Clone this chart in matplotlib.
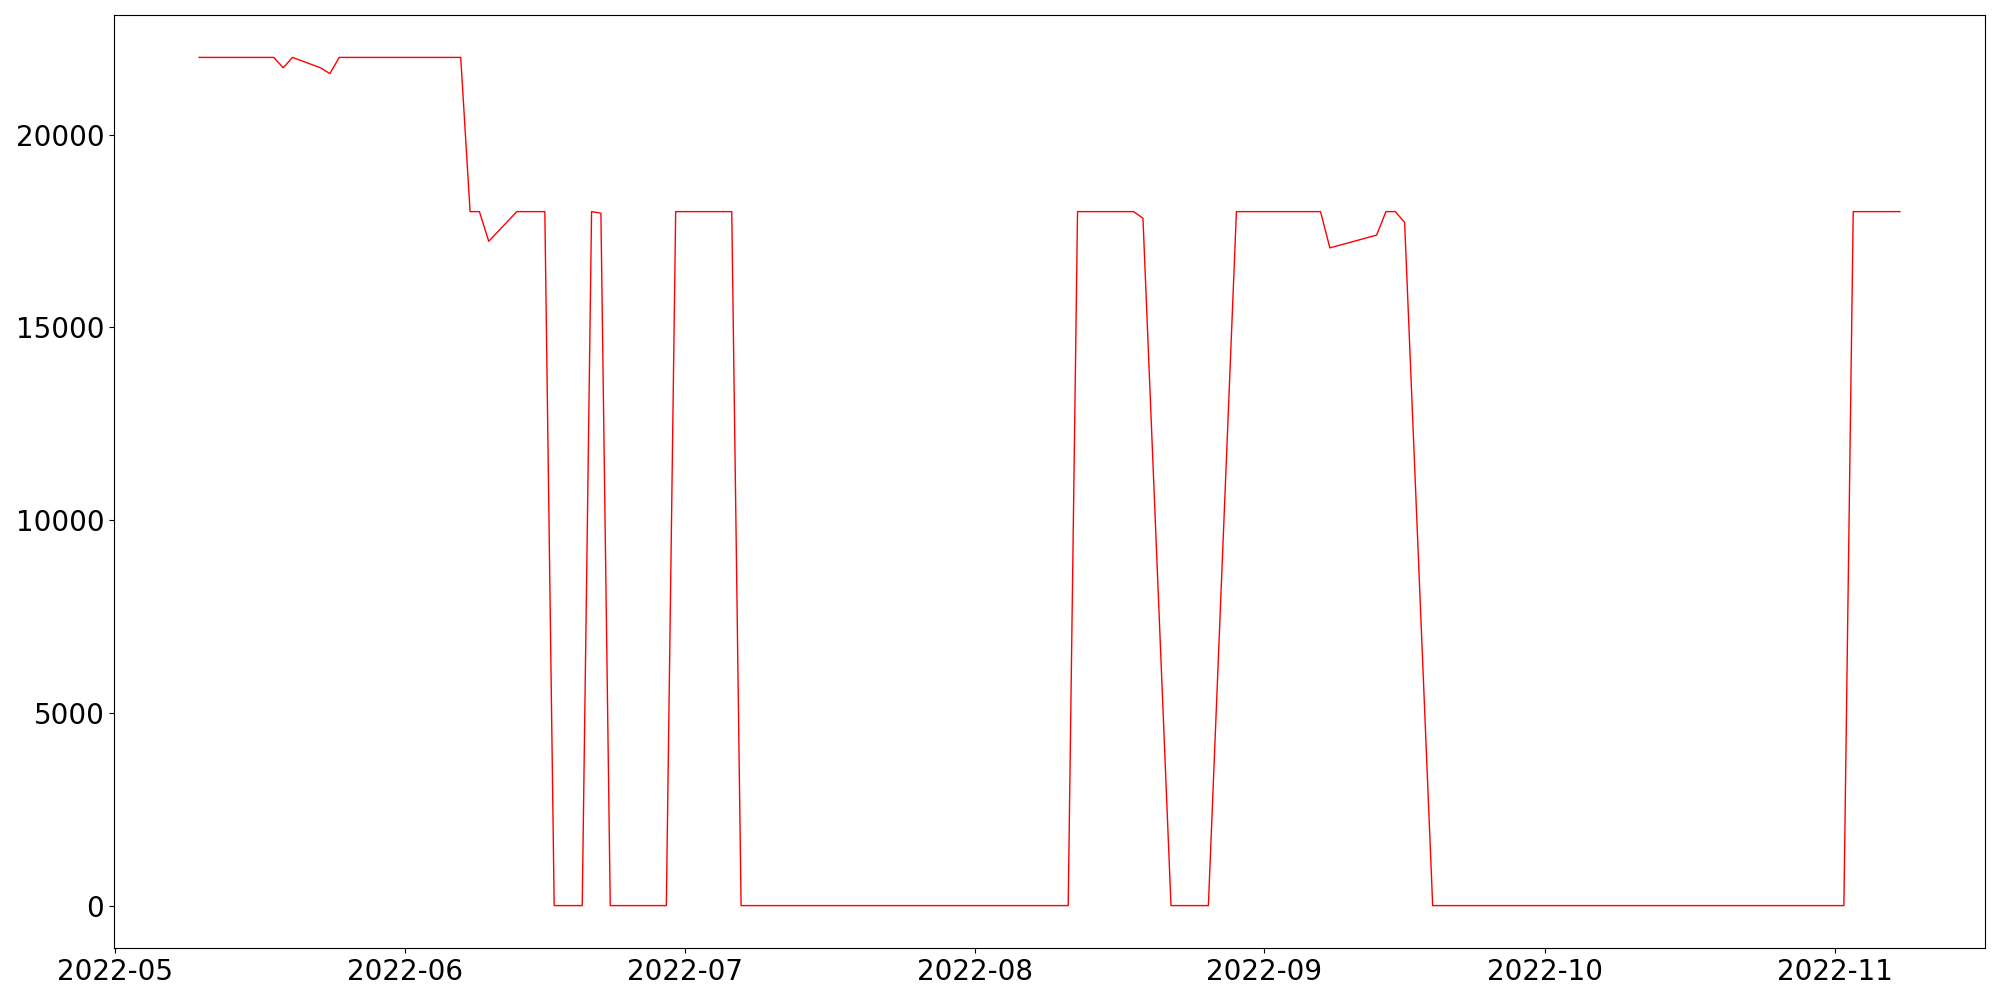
import numpy as np
import pandas as pd
import matplotlib
matplotlib.use("Agg")
import matplotlib.pyplot as plt

# 各拐点的日期和数值
dates = [
    "2022-05-10", "2022-05-18", "2022-05-19", "2022-05-20", "2022-05-23",
    "2022-05-24", "2022-05-25", "2022-06-07", "2022-06-08", "2022-06-09",
    "2022-06-10", "2022-06-13", "2022-06-16", "2022-06-17", "2022-06-20",
    "2022-06-21", "2022-06-22", "2022-06-23", "2022-06-29", "2022-06-30",
    "2022-07-06", "2022-07-07", "2022-08-11", "2022-08-12", "2022-08-18",
    "2022-08-19", "2022-08-22", "2022-08-26", "2022-08-29", "2022-09-07",
    "2022-09-08", "2022-09-13", "2022-09-14", "2022-09-15", "2022-09-16",
    "2022-09-19", "2022-11-02", "2022-11-03", "2022-11-08",
]
values = [
    22000, 22000, 21730, 22000, 21730,
    21580, 22000, 22000, 18000, 18000,
    17230, 18000, 18000, 0, 0,
    18000, 17960, 0, 0, 18000,
    18000, 0, 0, 18000, 18000,
    17830, 0, 0, 18000, 18000,
    17060, 17390, 18000, 18000, 17720,
    0, 0, 18000, 18000,
]

x = pd.to_datetime(dates)

plt.figure(figsize=(20, 10), dpi=100)
plt.plot(x, values, color='red', linewidth=1)
plt.xticks(fontsize=20)
plt.yticks(fontsize=20)
plt.subplots_adjust(left=0.057, right=0.9925, top=0.985, bottom=0.052)
plt.savefig("out.png", dpi=100)
